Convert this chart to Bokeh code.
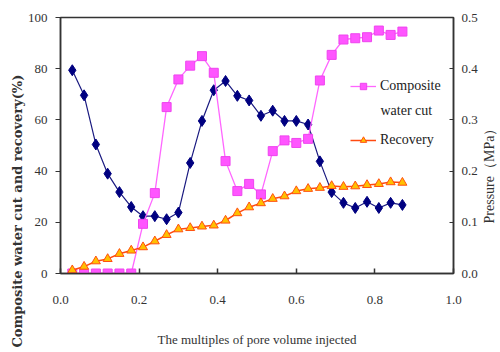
from math import pi
from bokeh.plotting import figure
from bokeh.layouts import row
from bokeh.models import Range1d, LinearAxis, FixedTicker, Label, Legend, LegendItem, Title
from bokeh.embed import file_html
from bokeh.resources import INLINE

# ---- data ----
pv_injected = [0.03, 0.06, 0.09, 0.12, 0.15, 0.18, 0.21, 0.24, 0.27, 0.30,
               0.33, 0.36, 0.39, 0.42, 0.45, 0.48, 0.51, 0.54, 0.57, 0.60,
               0.63, 0.66, 0.69, 0.72, 0.75, 0.78, 0.81, 0.84, 0.87]
water_cut = [0, 0, 0, 0, 0, 0, 19.4, 31.4, 65.0, 75.8,
             81.2, 84.9, 78.4, 43.9, 32.2, 35.0, 30.9, 47.8, 52.0, 51.0,
             52.6, 75.4, 85.4, 91.4, 91.9, 92.3, 94.9, 93.2, 94.5]
recovery = [1.3, 2.7, 4.8, 5.7, 7.7, 9.0, 10.3, 12.6, 15.1, 17.3,
            17.8, 18.4, 18.8, 20.7, 23.6, 25.9, 27.5, 29.2, 30.2, 32.2,
            33.1, 33.5, 34.2, 33.9, 34.1, 34.6, 35.0, 35.7, 35.5]
pressure = [0.397, 0.348, 0.252, 0.195, 0.159, 0.130, 0.112, 0.112, 0.106, 0.119,
            0.216, 0.298, 0.358, 0.376, 0.347, 0.338, 0.308, 0.318, 0.298, 0.298,
            0.291, 0.219, 0.159, 0.138, 0.128, 0.140, 0.128, 0.138, 0.134]

x_ticks = [0.0, 0.2, 0.4, 0.6, 0.8, 1.0]
x_tick_labels = ["0.0", "0.2", "0.4", "0.6", "0.8", "1.0"]
left_ticks = [0, 20, 40, 60, 80, 100]
right_ticks = [0.0, 0.1, 0.2, 0.3, 0.4, 0.5]
right_tick_labels = ["0.0", "0.1", "0.2", "0.3", "0.4", "0.5"]

series_names = ["Composite", "water cut", "Recovery"]
x_title = "The multiples of pore volume injected"
left_title = "Composite water cut and recovery(%)"
right_title = "Pressure（MPa）"

TXT = "#333333"
SERIF = "Times New Roman"

p = figure(width=480, height=352, x_range=Range1d(0, 1.0), y_range=Range1d(0, 100),
           output_backend="svg", toolbar_location=None,
           min_border_left=60, min_border_right=25, min_border_top=17, min_border_bottom=79)
p.extra_y_ranges = {"pressure": Range1d(0, 0.5)}
p.grid.visible = False
p.outline_line_color = "#333333"
p.outline_line_width = 1.5

xa = p.xaxis[0]
xa.ticker = FixedTicker(ticks=x_ticks)
xa.major_label_overrides = dict(zip(x_ticks, x_tick_labels))
xa.major_tick_in = 5
xa.major_tick_out = 0
xa.minor_tick_line_color = None
xa.major_label_standoff = 22
xa.axis_line_width = 1.5
xa.axis_line_color = "#333333"
xa.major_tick_line_width = 1.5
xa.major_tick_line_color = "#333333"
xa.axis_label = x_title
xa.axis_label_standoff = 25
xa.axis_label_text_font = SERIF
xa.axis_label_text_font_style = "normal"
xa.axis_label_text_font_size = "13px"
xa.axis_label_text_color = TXT

ya = p.yaxis[0]
ya.ticker = FixedTicker(ticks=left_ticks)
ya.major_tick_in = 0
ya.major_tick_out = 5
ya.minor_tick_line_color = None
ya.major_label_standoff = 8
ya.axis_line_width = 1.5
ya.axis_line_color = "#333333"
ya.major_tick_line_color = "#333333"

ra = LinearAxis(y_range_name="pressure", ticker=FixedTicker(ticks=right_ticks))
ra.major_label_overrides = dict(zip(right_ticks, right_tick_labels))
ra.major_tick_in = 4
ra.major_tick_out = 0
ra.minor_tick_line_color = None
ra.major_label_standoff = 8
ra.axis_line_width = 1.5
ra.axis_line_color = "#333333"
ra.major_tick_line_color = "#333333"
p.add_layout(ra, "right")

for ax in (xa, ya, ra):
    ax.major_label_text_font = SERIF
    ax.major_label_text_font_size = "13px"
    ax.major_label_text_color = TXT

# pressure (right axis)
p.line(pv_injected, pressure, y_range_name="pressure", line_color="#1a1a80", line_width=1.2)
p.scatter(pv_injected, pressure, y_range_name="pressure", marker="diamond", size=11,
          fill_color="#000080", line_color="#000080")

# composite water cut
wc_line = p.line(pv_injected, water_cut, line_color="#ff66ff", line_width=1.3)
wc_mark = p.scatter(pv_injected, water_cut, marker="square", size=9,
                    fill_color="#ff55ff", line_color="#ee44ee")

# recovery
rc_line = p.line(pv_injected, recovery, line_color="#ff4a10", line_width=1.5)
rc_mark = p.scatter(pv_injected, recovery, marker="triangle", size=9,
                    fill_color="#ffc000", line_color="#ff5010", line_width=1)

legend = Legend(items=[LegendItem(label=series_names[0], renderers=[wc_line, wc_mark]),
                       LegendItem(label=series_names[2], renderers=[rc_line, rc_mark])],
                location=(290, 125), padding=0, margin=0, spacing=38,
                glyph_width=26, glyph_height=16, label_height=16, label_standoff=4,
                border_line_color=None, background_fill_alpha=0,
                label_text_font=SERIF, label_text_font_size="14px",
                label_text_color="#222222")
p.add_layout(legend)

p.add_layout(Label(x=320, y=163, x_units="screen", y_units="screen", text=series_names[1],
                   text_font=SERIF, text_font_size="14px", text_color="#222222",
                   text_align="left", text_baseline="middle"))

p.add_layout(Title(text=left_title, align="left", offset=-74, standoff=0,
                   text_font="DejaVu Serif", text_font_style="bold",
                   text_font_size="13px", text_color=TXT), "left")

# narrow strip to the right that carries the pressure axis title
side = figure(width=20, height=352, x_range=Range1d(0, 1), y_range=Range1d(0, 1),
              output_backend="svg", toolbar_location=None,
              x_axis_location=None, y_axis_location=None,
              min_border=0, min_border_left=0, min_border_right=0,
              min_border_top=0, min_border_bottom=0)
side.grid.visible = False
side.outline_line_color = None
side.add_layout(Label(x=9, y=101, x_units="screen", y_units="screen", text=right_title,
                      angle=pi / 2, text_font=SERIF, text_font_size="14px",
                      text_color=TXT, text_align="center", text_baseline="middle"))

layout = row(p, side, spacing=0)
open("out.html", "w").write(file_html(layout, INLINE))
